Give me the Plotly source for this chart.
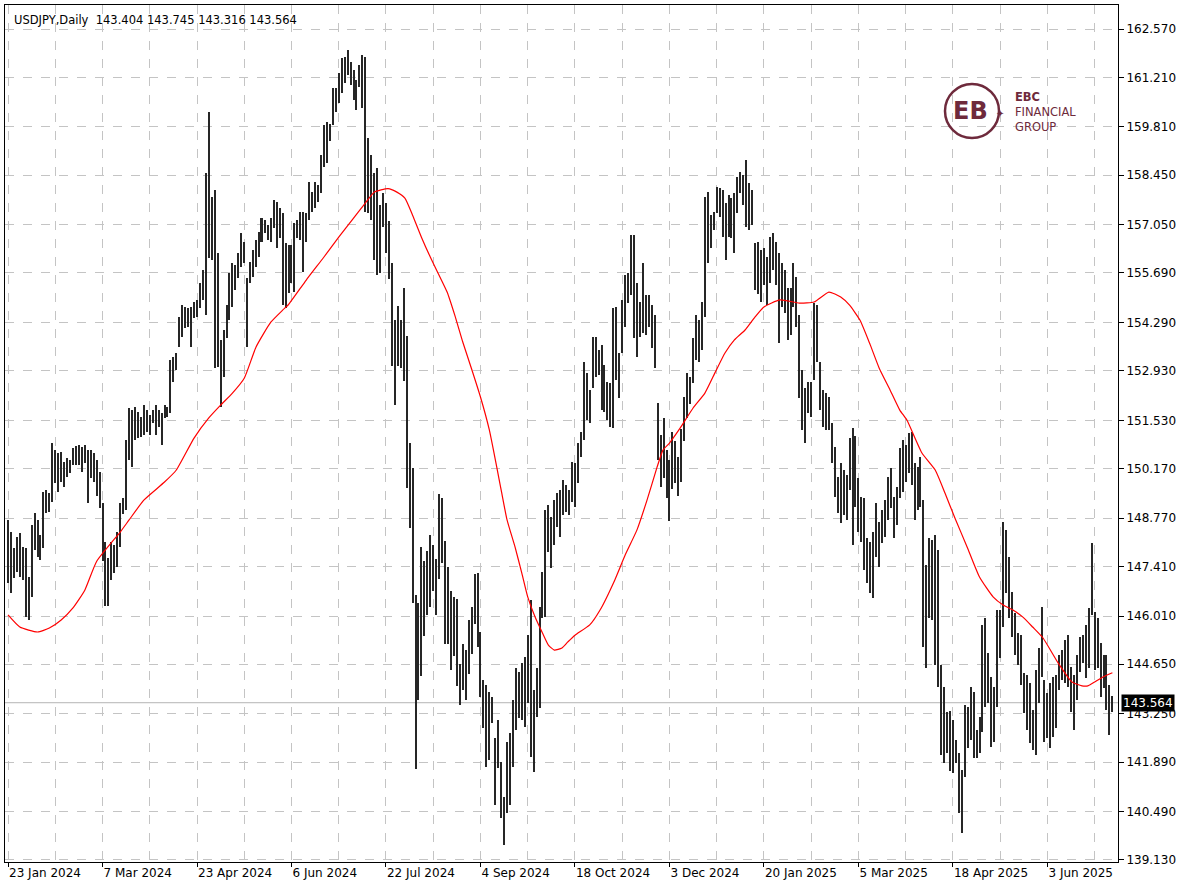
import plotly.graph_objects as go

SYMBOL = "USDJPY,Daily"
LAST_OHLC = [143.404, 143.745, 143.316, 143.564]

HIGHS = [
148.72,148.38,147.93,148.24,148.35,147.96,147.93,147.11,148.58,148.92,
148.72,148.30,149.51,149.57,149.48,150.89,150.69,150.61,150.64,150.35,
150.47,150.41,150.75,150.81,150.84,150.78,150.84,150.69,150.69,150.61,
150.40,150.07,149.20,148.10,147.65,148.10,148.01,148.38,149.20,149.34,
150.98,151.88,151.82,151.91,151.77,151.62,151.96,151.82,151.68,151.82,
151.96,151.82,151.74,151.96,151.91,153.23,153.32,153.43,154.45,154.78,
154.73,154.70,154.73,154.87,154.93,155.41,155.77,158.51,160.23,157.83,
158.03,156.25,153.80,154.08,154.78,155.69,155.97,155.91,156.25,156.82,
156.56,155.55,156.00,156.33,156.61,156.84,157.24,157.18,157.04,157.24,
157.75,157.69,157.52,157.38,156.53,156.48,156.48,157.10,157.18,157.41,
157.41,157.38,158.25,157.97,158.25,158.17,159.01,159.86,159.95,159.90,
160.91,160.91,161.33,161.75,161.78,161.98,161.64,161.41,161.13,161.55,
161.84,161.78,159.49,159.01,158.51,158.65,157.60,157.95,157.66,157.15,
155.97,154.36,154.76,154.36,155.26,153.91,150.89,150.19,146.60,146.38,
147.96,147.56,147.85,148.30,148.01,147.62,149.45,149.34,148.13,147.39,
146.72,146.55,146.49,144.66,145.22,145.05,145.90,146.27,147.20,147.22,
145.56,144.21,144.07,143.87,143.73,142.57,143.08,141.89,140.90,142.46,
142.71,143.64,144.55,144.43,144.69,144.86,145.47,146.46,143.92,144.55,
146.27,147.25,149.00,149.14,148.80,149.28,149.48,149.57,149.85,149.70,
149.57,150.35,150.33,150.89,151.20,153.18,152.87,152.39,153.88,153.88,
153.51,153.66,153.09,152.61,152.58,154.70,154.73,153.43,154.93,155.63,
155.69,156.76,156.76,155.41,154.87,155.97,155.07,155.07,154.78,154.50,
152.02,151.12,151.60,150.70,150.40,151.20,150.95,150.50,151.30,152.19,
152.87,152.75,153.85,154.50,154.36,154.87,157.83,157.97,157.32,157.41,
158.11,158.08,158.03,157.66,157.89,157.80,157.94,158.40,158.54,158.45,
158.88,158.23,158.03,156.53,156.56,156.33,156.39,156.14,156.70,156.82,
156.56,156.25,155.97,155.77,155.26,155.26,155.97,155.57,154.50,152.95,
152.44,152.61,152.61,154.84,154.78,153.18,152.39,152.30,152.19,151.46,
150.78,149.93,150.33,150.13,149.99,151.03,151.31,151.10,149.90,149.37,
149.34,148.21,148.10,148.38,149.20,148.66,149.00,149.28,149.93,150.19,
149.37,149.65,150.75,150.98,150.84,151.18,151.20,150.33,150.21,150.50,
149.28,147.45,148.21,148.16,148.30,147.87,144.63,144.01,143.30,143.32,
143.08,142.51,142.15,141.67,143.50,143.44,144.01,143.87,142.80,143.16,
145.76,145.96,144.97,144.29,144.01,146.18,146.18,148.66,148.44,147.68,
146.69,146.10,145.53,145.47,144.41,144.35,144.12,143.36,144.49,145.11,
146.27,144.20,143.84,144.12,144.29,144.35,144.91,145.05,145.33,145.47,
144.57,144.35,144.91,145.42,145.47,145.76,146.24,148.07,146.13,145.96,
145.25,144.91,144.91,144.07,143.745,
]

LOWS = [
146.94,146.66,147.08,147.25,147.11,147.03,145.98,145.90,146.55,147.87,
147.67,147.59,147.93,148.92,148.94,149.23,149.76,149.51,149.79,149.65,
149.93,150.04,150.27,150.27,150.27,150.07,150.33,149.20,149.90,149.79,
149.40,149.06,147.55,146.30,146.30,147.03,147.22,147.39,147.96,148.90,
149.00,150.41,150.21,150.98,151.03,151.06,151.12,151.20,151.12,151.46,
151.12,151.34,150.83,151.60,151.62,151.74,152.61,152.95,153.60,153.88,
154.14,154.16,153.60,154.42,154.45,154.70,154.93,154.50,156.11,156.05,
153.01,153.04,151.91,152.75,153.85,154.36,154.73,155.21,155.55,155.86,
155.97,153.60,155.41,155.57,155.86,156.14,156.56,156.82,156.61,156.56,
156.96,156.39,156.67,154.78,154.70,155.12,155.41,155.15,156.67,156.61,
155.72,156.56,157.18,157.41,157.52,157.69,157.94,158.68,158.79,159.40,
159.86,160.23,160.49,160.77,161.05,161.27,160.99,160.57,160.29,160.94,
160.34,157.41,157.38,157.18,156.05,155.63,155.70,157.00,156.25,155.52,
153.06,151.96,153.06,153.01,152.64,149.62,148.49,146.38,141.70,143.64,
144.32,145.45,146.04,146.27,146.72,146.04,147.06,147.51,145.22,145.22,
144.49,144.88,144.04,143.50,143.93,143.64,144.38,144.94,145.78,145.14,
143.73,142.85,141.75,141.95,143.00,140.68,141.72,140.31,139.55,140.46,
140.68,141.75,142.80,143.14,143.08,142.88,143.56,142.03,141.61,143.17,
143.42,145.96,145.98,147.82,147.36,148.01,148.52,148.24,148.85,148.95,
148.86,149.23,149.09,149.76,150.50,150.98,151.54,151.46,152.44,152.75,
152.81,151.82,151.77,151.54,151.34,151.31,152.67,152.16,153.43,154.16,
154.84,155.07,153.85,153.32,153.88,153.99,153.94,154.16,153.57,153.01,
150.41,149.65,149.90,149.35,148.70,149.60,149.75,149.40,149.80,150.95,
151.60,152.00,152.58,153.23,153.18,153.51,154.45,155.97,156.39,156.90,
157.38,157.27,156.70,156.05,156.70,156.67,156.25,157.38,157.94,157.60,
156.98,156.90,157.04,155.21,155.10,154.87,155.35,154.78,155.41,155.77,
155.35,153.71,154.73,154.56,153.80,153.94,154.73,154.16,152.16,151.26,
150.89,151.74,151.62,152.67,153.18,151.82,151.34,151.26,151.26,150.33,
149.37,148.92,148.63,148.86,148.72,149.57,148.01,149.09,148.38,148.10,
147.31,146.94,146.66,146.52,147.67,147.39,148.07,148.24,148.72,149.06,
148.21,148.58,149.34,149.51,149.79,150.04,149.71,148.72,149.00,149.09,
145.14,144.55,145.95,145.90,144.63,144.01,142.09,141.86,142.15,141.64,
141.58,141.86,140.46,139.89,141.47,142.29,142.51,142.01,142.01,142.15,
142.74,143.44,143.56,142.32,142.46,143.44,144.83,145.70,146.66,145.96,
145.42,144.91,144.63,144.07,143.28,142.80,142.43,142.23,142.09,143.56,
144.29,142.45,142.57,142.29,142.60,142.85,143.93,144.21,144.12,144.01,
143.30,142.80,143.64,144.43,144.69,144.27,144.55,146.04,144.49,144.55,
143.73,143.98,143.36,142.66,143.316,
]

MA_IDX = [0, 4, 10, 14, 18, 22, 26, 30, 38, 41, 46, 53, 57, 63, 68, 72, 76, 80, 84, 89,
          93, 95, 101, 107, 112, 116.5, 121, 124, 128.7, 131.7, 134.4, 137, 140, 143, 145.6,
          148.7, 151.4, 154, 157, 160, 163, 167, 169, 171.7, 174, 176, 178.5, 181, 183, 185,
          187.6, 189.6, 192, 197, 200.5, 205.5, 209, 213, 216.4, 219.8, 221.8, 224, 227.6,
          232, 236, 239.4, 242.8, 246, 249.6, 253, 256, 261.4, 268, 273, 278, 282, 285,
          288.5, 292, 295, 298.7, 302, 304.4, 309.5, 314, 317.3, 320.7, 324.8, 329, 333.6,
          337, 340.3, 343.7, 347, 350.5, 355.6, 360.3, 363.7, 365.7, 368, 370.8, 374]
MA_VAL = [146.04, 145.70, 145.56, 145.67, 145.90, 146.24, 146.74, 147.55, 148.38, 148.72,
          149.28, 149.79, 150.13, 151.03, 151.60, 151.96, 152.30, 152.72, 153.60, 154.30,
          154.64, 154.80, 155.49, 156.14, 156.70, 157.18, 157.66, 157.97, 158.07, 157.97,
          157.80, 157.32, 156.70, 156.14, 155.69, 155.15, 154.47, 153.74, 152.98, 152.19,
          151.26, 149.57, 148.72, 147.96, 147.22, 146.55, 145.98, 145.53, 145.19, 145.05,
          145.11, 145.28, 145.47, 145.76, 146.18, 147.03, 147.73, 148.44, 149.28, 150.21,
          150.69, 150.89, 151.31, 151.88, 152.30, 152.87, 153.43, 153.80, 154.08, 154.45,
          154.73, 154.93, 154.84, 154.87, 155.15, 155.01, 154.78, 154.36, 153.66, 153.01,
          152.39, 151.82, 151.54, 150.61, 150.13, 149.48, 148.77, 147.96, 147.11, 146.55,
          146.32, 146.18, 145.98, 145.70, 145.39, 144.69, 144.15, 144.04, 144.04, 144.15,
          144.29, 144.41]

XTICK_IDX = [0, 32, 64, 96, 128, 160, 192, 224, 256, 288, 320, 352]
XTICK_TEXT = ["23 Jan 2024", "7 Mar 2024", "23 Apr 2024", "6 Jun 2024", "22 Jul 2024",
              "4 Sep 2024", "18 Oct 2024", "3 Dec 2024", "20 Jan 2025", "5 Mar 2025",
              "18 Apr 2025", "3 Jun 2025"]
YTICKS = [162.570, 161.210, 159.810, 158.450, 157.050, 155.690, 154.290, 152.930, 151.530,
          150.170, 148.770, 147.410, 146.010, 144.650, 143.250, 141.890, 140.490, 139.130]

FONT = "DejaVu Sans"
MAROON = "#6e2a3c"

X_MIN, X_MAX = -1.02, 375.9

W, H = 1200, 896
L, R, T, B = 5, 82, 5, 34
pw, ph = W - L - R, H - T - B
def px(x):
    return (x - L) / pw
def py(y):
    return 1 - (y - T) / ph

# bar body exactly 2 screen pixels wide
bar_w = 2.0 * (X_MAX - X_MIN) / pw

idx = list(range(len(HIGHS)))
spans = [h - l for h, l in zip(HIGHS, LOWS)]

fig = go.Figure()
fig.add_trace(go.Bar(x=idx, y=spans, base=LOWS, width=bar_w,
                     marker=dict(color="#262626", line=dict(width=0)),
                     hoverinfo="skip", showlegend=False))
fig.add_trace(go.Scatter(x=MA_IDX, y=MA_VAL, mode="lines",
                         line=dict(color="#ff0000", width=1.2, shape="spline", smoothing=0.5),
                         hoverinfo="skip", showlegend=False))

last = LAST_OHLC[3]
fig.add_hline(y=last, line=dict(color="#b4b4b4", width=1), layer="below")

fig.update_layout(
    width=W, height=H,
    margin=dict(l=L, r=R, t=T, b=B, autoexpand=False),
    paper_bgcolor="white", plot_bgcolor="white",
    bargap=0,
    font=dict(family=FONT, size=12, color="black"),
    xaxis=dict(range=[X_MIN, X_MAX], tickvals=XTICK_IDX, ticktext=XTICK_TEXT,
               ticklabelposition="outside right", ticks="outside", ticklen=4,
               tickcolor="black", showgrid=True, gridcolor="#c4c4c4", griddash="dash",
               gridwidth=1,
               minor=dict(tickvals=[16 + 32 * k for k in range(12)], showgrid=True,
                          gridcolor="#c4c4c4", griddash="dash", ticks=""),
               showline=True, linecolor="black", linewidth=1, mirror=True,
               zeroline=False, tickfont=dict(size=12, family=FONT)),
    yaxis=dict(range=[139.07, 163.25], side="right", tickvals=YTICKS,
               ticktext=["%.3f" % v for v in YTICKS], ticks="outside", ticklen=5,
               tickcolor="black", showgrid=True, gridcolor="#c4c4c4", griddash="dash",
               showline=True, linecolor="black", linewidth=1, mirror=True,
               zeroline=False, tickfont=dict(size=12, family=FONT)),
)

header = "%s  %.3f %.3f %.3f %.3f" % (SYMBOL, *LAST_OHLC)
fig.add_annotation(text=header, xref="paper", yref="paper", x=px(12), y=py(20),
                   xanchor="left", yanchor="middle", showarrow=False,
                   font=dict(family=FONT, size=11.5, color="black"))

fig.add_annotation(text="%.3f" % last, xref="paper", yref="y", x=1, y=last,
                   xanchor="left", yanchor="middle", xshift=3, showarrow=False,
                   bgcolor="black", font=dict(family=FONT, size=12, color="white"),
                   borderpad=1)

# logo
cx, cy, r = 972, 111, 27
fig.add_shape(type="circle", xref="paper", yref="paper",
              x0=px(cx - r), x1=px(cx + r), y0=py(cy + r), y1=py(cy - r),
              line=dict(color=MAROON, width=2.5))
fig.add_annotation(text="<b>EB</b>", xref="paper", yref="paper", x=px(cx - 2), y=py(cy),
                   xanchor="center", yanchor="middle",
                   showarrow=False, font=dict(family=FONT, size=24, color=MAROON))
fig.add_annotation(text="✦", xref="paper", yref="paper", x=px(1000), y=py(113),
                   xanchor="center", yanchor="middle",
                   showarrow=False, font=dict(family=FONT, size=10, color=MAROON))
fig.add_annotation(text="<b>EBC</b><br>FINANCIAL<br>GROUP", xref="paper", yref="paper",
                   x=px(1013), y=py(112), xanchor="left", yanchor="middle", align="left",
                   showarrow=False, font=dict(family=FONT, size=11.5, color=MAROON))

fig.write_html("out.html", config={"displayModeBar": False},
               post_script="document.body.style.margin='0px';")
